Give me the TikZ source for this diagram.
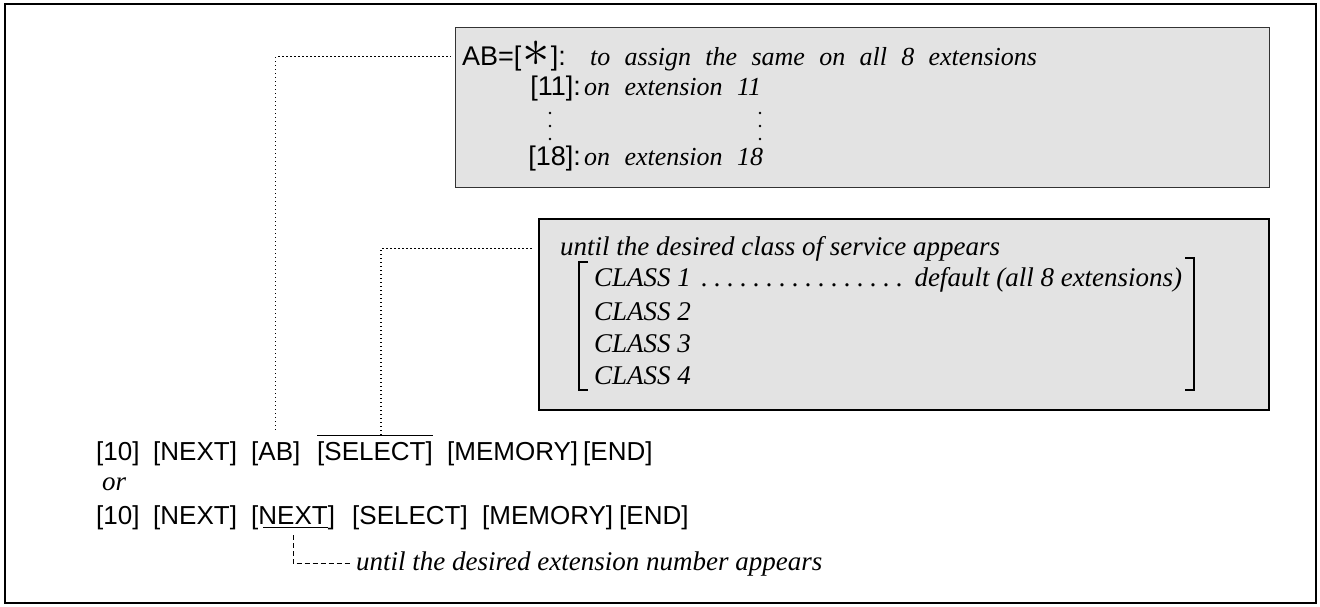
\documentclass[tikz,border=0pt]{standalone}
\usepackage{fontspec}
\usepackage{graphicx}
\setmainfont{Liberation Serif}
\setsansfont{Liberation Sans}
\begin{document}
\begin{tikzpicture}[x=1pt,y=-1pt,
  sanstok/.style={inner sep=0pt, anchor=base west, font=\sffamily\fontsize{26}{30}\selectfont},
  boxsans/.style={inner sep=0pt, font=\sffamily\fontsize{27}{30}\selectfont},
  itl/.style={inner sep=0pt, anchor=base west, font=\itshape\fontsize{27}{30}\selectfont},
  wideitl/.style={itl, font=\itshape\fontsize{26}{30}\selectfont, execute at begin node={\spaceskip=0.55em plus 0.1em\relax}},
  panel/.style={draw=black!80, line width=1.3pt, fill=gray!22, inner sep=0pt, anchor=north west},
  conn/.style={line width=1.1pt, dash pattern=on 1.4pt off 2.6pt},
  dashconn/.style={line width=0.9pt, dash pattern=on 5pt off 3pt},
  rule/.style={line width=0.9pt},
  brk/.style={line width=1.3pt},
  vdot/.style={fill=black, circle, inner sep=0pt, minimum size=2.6pt}
]
\useasboundingbox (0,0) rectangle (1320,607);
\draw[line width=1.8pt] (5,4) rectangle (1316,603);

% panels
\node[panel, minimum width=814pt, minimum height=160pt] (box1) at (455,27) {};
\node[panel, draw=black, line width=1.5pt, minimum width=730pt, minimum height=191pt] (box2) at (538,218) {};

% box 1 contents
\node[boxsans, anchor=base west] (abeq) at (462,66) {AB=[\kern1pt\raisebox{-0.5pt}{\scalebox{2.2}{$\ast$}}\kern1pt]:};
\node[wideitl] (r1) at (590,66) {to assign the same on all 8 extensions};
\node[boxsans, anchor=base east] (r2a) at (581,96) {[11]:};
\node[wideitl] (r2b) at (584,96) {on extension 11};
\node[vdot] (d1) at (550,113) {};
\node[vdot] (d2) at (550,126) {};
\node[vdot] (d3) at (550,139) {};
\node[vdot] (d4) at (760,113) {};
\node[vdot] (d5) at (760,126) {};
\node[vdot] (d6) at (760,139) {};
\node[boxsans, anchor=base east] (r4a) at (581,166) {[18]:};
\node[wideitl] (r4b) at (584,166) {on extension 18};

% box 2 contents
\node[itl] (until) at (560,255) {until the desired class of service appears};
\node[itl] (c1) at (594,286) {\makebox[588pt][l]{CLASS 1\leaders\hbox to 13pt{\hss.\hss}\hfill default (all 8 extensions)}};
\node[itl] (c2) at (594,320) {CLASS 2};
\node[itl] (c3) at (594,352) {CLASS 3};
\node[itl] (c4) at (594,384) {CLASS 4};
\draw[brk] (588,262) -- (579,262) -- (579,390) -- (588,390);
\draw[brk] (1185,258) -- (1194,258) -- (1194,390) -- (1185,390);

% key sequence lines
\node[sanstok] (k10a) at (96,460) {[10]};
\node[sanstok] (nx1) at (153,460) {[NEXT]};
\node[sanstok] (ab1) at (251,460) {[AB]};
\node[sanstok] (sel1) at (317,460) {[SELECT]};
\node[sanstok] (mem1) at (447,460) {[MEMORY]};
\node[sanstok] (end1) at (583,460) {[END]};

\node[itl] (or) at (102,490) {or};

\node[sanstok] (k10b) at (96,524) {[10]};
\node[sanstok] (nxa) at (153,524) {[NEXT]};
\node[sanstok] (nx2) at (251,524) {[NEXT]};
\node[sanstok] (sel2) at (352,524) {[SELECT]};
\node[sanstok] (mem2) at (482,524) {[MEMORY]};
\node[sanstok] (end2) at (619,524) {[END]};

\node[itl] (untilext) at (356,570) {until the desired extension number appears};

% overline / underline
\draw[rule] ([yshift=6pt]sel1.north west) -- ([yshift=6pt]sel1.north east);
\draw[rule] ([xshift=12pt,yshift=-3pt]nx2.base west) -- ([xshift=-7pt,yshift=-3pt]nx2.base east);

% connectors
\draw[conn] ([yshift=11pt]ab1.north) |- ([xshift=-4pt]box1.west |- abeq.center);
\draw[conn] ([xshift=6pt,yshift=6pt]sel1.north) |- ([xshift=-4pt]box2.west |- until.center);
\draw[dashconn, shorten >=6pt] ([yshift=-11pt]nx2.base) |- (untilext.west);
\end{tikzpicture}
\end{document}
